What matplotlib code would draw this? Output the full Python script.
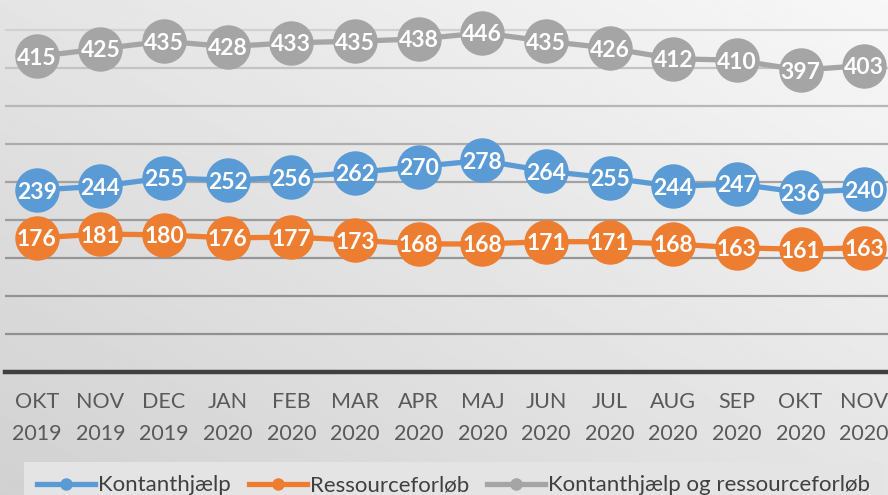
import numpy as np
import matplotlib
matplotlib.use("Agg")
import matplotlib.pyplot as plt
from matplotlib.lines import Line2D

# data
maaneder = ["OKT\n2019", "NOV\n2019", "DEC\n2019", "JAN\n2020", "FEB\n2020", "MAR\n2020",
            "APR\n2020", "MAJ\n2020", "JUN\n2020", "JUL\n2020", "AUG\n2020", "SEP\n2020",
            "OKT\n2020", "NOV\n2020"]
kontanthjaelp = [239, 244, 255, 252, 256, 262, 270, 278, 264, 255, 244, 247, 236, 240]
ressourceforloeb = [176, 181, 180, 176, 177, 173, 168, 168, 171, 171, 168, 163, 161, 163]
samlet = [415, 425, 435, 428, 433, 435, 438, 446, 435, 426, 412, 410, 397, 403]
serie_navne = ["Kontanthjælp", "Ressourceforløb", "Kontanthjælp og ressourceforløb"]
farver = ["#5B9BD5", "#ED7D31", "#A5A5A5"]

plt.rcParams['font.family'] = ['Lato', 'DejaVu Sans']

W, H = 888, 495
fig = plt.figure(figsize=(W / 100, H / 100), dpi=100)

# baggrund med gradient (lys oppe til hoejre, graa nede til venstre)
bg = fig.add_axes([0, 0, 1, 1], zorder=-10)
gx, gy = np.meshgrid(np.linspace(0, 1, 300), np.linspace(1, 0, 200))
g = 0.5 * gx + 0.5 * gy
bg.imshow(0.82 + 0.15 * g, cmap="gray", vmin=0, vmax=1, aspect="auto",
          extent=[0, 1, 0, 1], interpolation="bilinear")
bg.axis('off')

ax = fig.add_axes([5 / W, 123.5 / H, 891 / W, 372 / H])
ax.patch.set_alpha(0)
x = np.arange(len(maaneder))
ax.set_xlim(-0.5, len(maaneder) - 0.5)
ax.set_ylim(0, 490)

# gitterlinjer
for yv in range(50, 500, 50):
    c = 0.56 + 0.26 * (yv / 450.0) ** 2
    ax.axhline(yv, color=(c, c, c), lw=1.6, zorder=1)
ax.axhline(0, color="#404040", lw=3.2, zorder=2, clip_on=False)

for data, farve in zip([kontanthjaelp, ressourceforloeb, samlet], farver):
    ax.plot(x, data, color=farve, lw=3.8, marker='o', markersize=32,
            markeredgewidth=0, zorder=3)
    for xi, v in zip(x, data):
        ax.text(xi, v, str(v), ha='center', va='center_baseline', color='white',
                fontsize=16.5, fontweight='bold', zorder=4)

for s in ax.spines.values():
    s.set_visible(False)
ax.set_yticks([])
ax.set_xticks(x)
ax.set_xticklabels(maaneder, fontsize=15.5, color="#595959", linespacing=1.7)
ax.tick_params(axis='x', length=0, pad=15)

handles = [Line2D([], [], color=f, lw=3.8, marker='o', markersize=8) for f in farver]
leg = fig.legend(handles, serie_navne, loc='upper left',
                 bbox_to_anchor=(24 / W, 1 - 462 / H), ncol=3, frameon=True,
                 fontsize=16, handlelength=2.6, handletextpad=0.15,
                 columnspacing=0.8, borderpad=0.6, borderaxespad=0, fancybox=False)
leg.get_frame().set_facecolor("#e4e4e4")
leg.get_frame().set_edgecolor("none")
leg.get_frame().set_alpha(1)
for t in leg.get_texts():
    t.set_color("#404040")

fig.savefig("out.png", dpi=100)
